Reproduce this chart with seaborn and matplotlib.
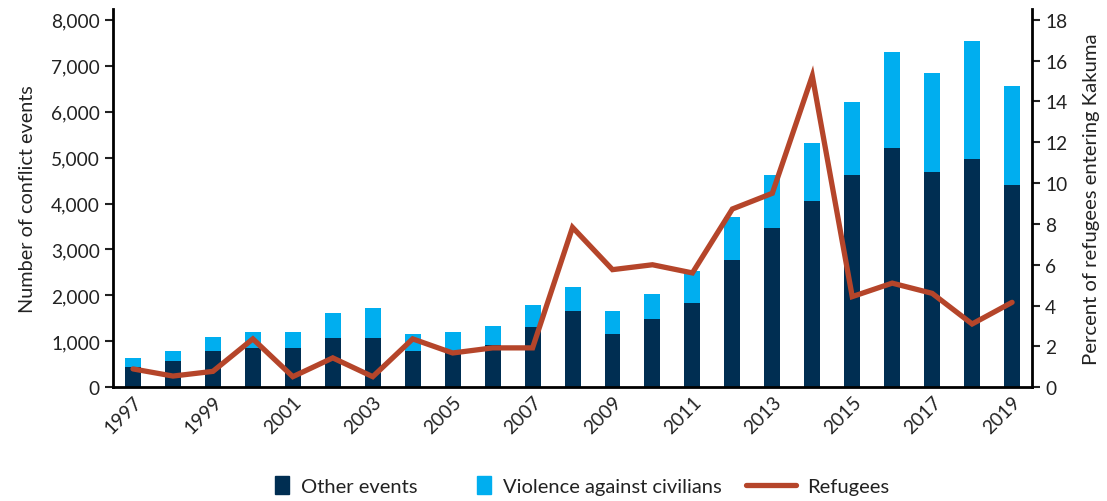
import numpy as np
import pandas as pd
import matplotlib
matplotlib.use("Agg")
import matplotlib.pyplot as plt
import seaborn as sns
from matplotlib.patches import Rectangle
from matplotlib.lines import Line2D
from matplotlib.legend_handler import HandlerPatch
from matplotlib.ticker import FuncFormatter

# values
years = list(range(1997, 2020))
other_events = [450, 580, 800, 850, 850, 1080, 1080, 800, 750, 920, 1315, 1670,
                1150, 1490, 1835, 2770, 3470, 4060, 4630, 5210, 4680, 4970, 4400]
violence = [185, 220, 290, 350, 350, 540, 650, 350, 450, 410, 480, 520,
            520, 535, 690, 930, 1150, 1260, 1570, 2090, 2160, 2570, 2150]
refugees = [0.9, 0.55, 0.78, 2.37, 0.52, 1.44, 0.52, 2.37, 1.68, 1.93, 1.93, 7.83,
            5.76, 6.0, 5.6, 8.73, 9.5, 15.25, 4.44, 5.1, 4.6, 3.1, 4.16]

dark = "#002e52"
light = "#00aeef"
rust = "#b5452a"

df = pd.DataFrame({"year": years, "other": other_events, "violence": violence,
                   "refugees": refugees})
df["total"] = df["other"] + df["violence"]

sns.set_style("white")
plt.rcParams["font.family"] = ["Lato", "DejaVu Sans"]
plt.rcParams["text.color"] = "#222222"
plt.rcParams["axes.labelcolor"] = "#222222"
plt.rcParams["xtick.color"] = "#222222"
plt.rcParams["ytick.color"] = "#222222"

fig = plt.figure(figsize=(11.07, 5.02), dpi=100)
ax = fig.add_axes([0.1021, 0.2265, 0.8302, 0.7535])

sns.barplot(data=df, x="year", y="total", native_scale=True, width=0.4,
            color=light, saturation=1, edgecolor="none", ax=ax)
sns.barplot(data=df, x="year", y="other", native_scale=True, width=0.4,
            color=dark, saturation=1, edgecolor="none", ax=ax)

ax2 = ax.twinx()
sns.lineplot(data=df, x="year", y="refugees", color=rust, linewidth=3.8,
             ax=ax2, solid_joinstyle="miter")

ax.set_xlim(1996.5, 2019.5)
ax.set_ylim(0, 8233)
ax2.set_ylim(0, 18.52)
ax.set_yticks(range(0, 8001, 1000))
ax2.set_yticks(range(0, 19, 2))
ax.yaxis.set_major_formatter(FuncFormatter(lambda v, p: f"{int(v):,}"))
ax.set_xticks(years[::2])
ax.set_xticklabels([str(y) for y in years[::2]], rotation=45, ha="right",
                   rotation_mode="anchor")

ax.set_xlabel("")
ax.set_ylabel("Number of conflict events", fontsize=14.3, labelpad=11)
ax2.set_xlabel("")
ax2.set_ylabel("Percent of refugees entering Kakuma", fontsize=14.6, labelpad=11)

for a in (ax, ax2):
    a.spines["top"].set_visible(False)
    a.tick_params(labelsize=13.8, width=1.5, length=6, direction="out")
ax.spines["right"].set_visible(False)
ax2.spines["left"].set_visible(False)
ax2.spines["bottom"].set_visible(False)
ax.spines["left"].set_linewidth(2)
ax.spines["bottom"].set_linewidth(2)
ax2.spines["right"].set_linewidth(2)
ax.tick_params(axis="x", length=0, pad=4)
ax.tick_params(axis="y", left=True)
ax2.tick_params(axis="y", right=True)
for s in ("left", "bottom", "right"):
    ax.spines[s].set_color("black")
    ax2.spines[s].set_color("black")


def square(legend, orig_handle, xdescent, ydescent, width, height, fontsize):
    return Rectangle((width - xdescent - 11, -ydescent + height / 2 - 6.5), 10.5, 13)


handles = [Rectangle((0, 0), 1, 1, color=dark),
           Rectangle((0, 0), 1, 1, color=light),
           Line2D([], [], color=rust, linewidth=3.8)]
labels = ["Other events", "Violence against civilians", "Refugees"]
fig.legend(handles, labels, loc="center", bbox_to_anchor=(0.51, 0.028), ncol=3,
           frameon=False, fontsize=14.5, handlelength=2.5, handletextpad=0.55,
           columnspacing=1.2,
           handler_map={Rectangle: HandlerPatch(patch_func=square)})

fig.savefig("out.png", dpi=100)
